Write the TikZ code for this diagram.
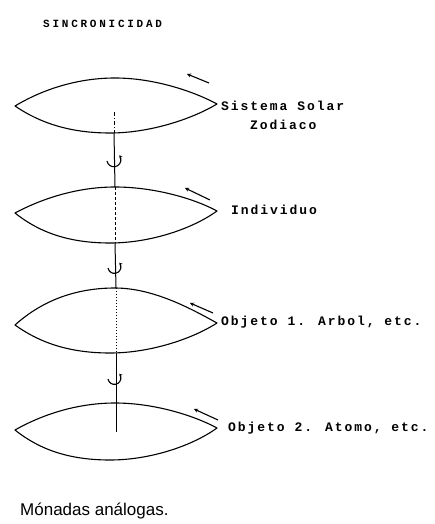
\documentclass[tikz,border=0pt]{standalone}
\usepackage{fontspec}
\newfontfamily\tw[LetterSpace=15]{Liberation Mono}
\newfontfamily\twt[LetterSpace=25]{Liberation Mono}
\newfontfamily\hand{Liberation Sans}
\usetikzlibrary{arrows.meta}
\begin{document}
\begin{tikzpicture}[x=1pt,y=-1pt,
  lensline/.style={line width=1.1pt,line join=round},
  axis/.style={line width=1pt},
  spin/.style={line width=1.1pt,-{Stealth[length=4pt,width=4pt]}},
  curl/.style={line width=1.1pt,-{Stealth[length=3pt,width=3.5pt]}},
  lbl/.style={anchor=west,inner sep=0pt,font=\tw\bfseries\fontsize{13}{15}\selectfont}]
\useasboundingbox (0,0) rectangle (434,524);
% title
\node[anchor=west,inner sep=0pt,font=\twt\bfseries\fontsize{11}{13}\selectfont] (title) at (43,24) {SINCRONICIDAD};
% lenses: middle-y, top-y, bottom-y
\foreach \m/\t/\b/\n in {106/78/133/1, 213/187/243/2, 325/288/353/3, 430/403/460/4}{
  \draw[lensline] (15,\m) .. controls (45,\t+10) and (80,\t) .. (115,\t)
     .. controls (155,\t) and (195,\m-14) .. (217,\m-2)
     .. controls (192,\b-14) and (150,\b) .. (110,\b)
     .. controls (70,\b) and (40,\b-10) .. (15,\m) -- cycle;
}
% axis pieces
\coordinate (a1) at (114,112); \coordinate (a2) at (114,133);
\coordinate (a3) at (115,187); \coordinate (a4) at (115,243);
\coordinate (a5) at (116,288); \coordinate (a6) at (116,353);
\coordinate (a7) at (116,432);
\draw[axis,dash pattern=on 4pt off 2pt on 1pt off 2pt] (a1) -- (a2);
\draw[axis] (a2) -- (a3);
\draw[axis,dash pattern=on 3pt off 2pt] (a3) -- (a4);
\draw[axis] (a4) -- (a5);
\draw[axis,dotted] (a5) -- (a6);
\draw[axis] (a6) -- (a7);
% rotation curls on the axis
\draw[curl] (107,161) arc[start angle=170,end angle=-40,radius=7];
\draw[curl] (108,268) arc[start angle=170,end angle=-40,radius=6.5];
\draw[curl] (108,379) arc[start angle=170,end angle=-40,radius=6.5];
% spin arrows above right tips
\coordinate (s1a) at (209,83); \coordinate (s1b) at (187,74);
\coordinate (s2a) at (210,200); \coordinate (s2b) at (185,188);
\coordinate (s3a) at (213,313); \coordinate (s3b) at (190,303);
\coordinate (s4a) at (218,420); \coordinate (s4b) at (194,409);
\draw[spin] (s1a) -- (s1b);
\draw[spin] (s2a) -- (s2b);
\draw[spin] (s3a) -- (s3b);
\draw[spin] (s4a) -- (s4b);
% labels
\node[lbl] (l1) at (221,106) {Sistema Solar};
\node[lbl] (l1b) at (250,125) {Zodiaco};
\node[lbl] (l2) at (231,210) {Individuo};
\node[lbl] (l3) at (221,322) {Objeto 1. Arbol, etc.};
\node[lbl] (l4) at (228,428) {Objeto 2. Atomo, etc.};
\node[anchor=base west,inner sep=0pt,font=\hand\fontsize{17}{19}\selectfont] (mon) at (20,515) {Mónadas análogas.};
\end{tikzpicture}
\end{document}
